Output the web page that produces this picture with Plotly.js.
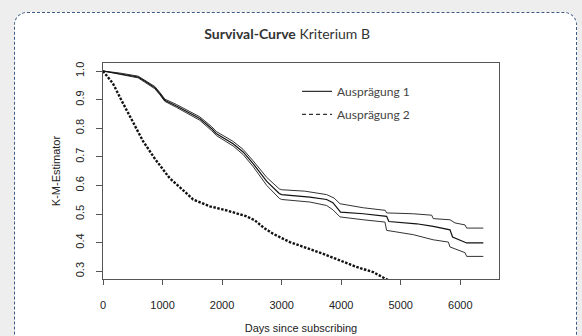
<!DOCTYPE html>
<html>
<head>
<meta charset="utf-8">
<script src="https://cdn.plot.ly/plotly-3.0.1.min.js"></script>
<style>
  html, body { margin: 0; padding: 0; background: #eeeeee; width: 582px; height: 336px; overflow: hidden; }
  #panel { position: absolute; left: 14px; top: 12px; width: 563px; height: 340px;
           border: 1.5px dashed #3d5a82; border-radius: 13px; background: #ffffff; box-sizing: border-box; }
  #chart { position: absolute; left: 0; top: 0; width: 582px; height: 336px; }
</style>
</head>
<body>
<div id="panel"></div>
<div id="chart"></div>
<script>
// Ausprägung 1: Kaplan-Meier estimate with upper / lower confidence bounds
const daysEst  = [0, 280, 590, 700, 870, 955, 1037, 1233, 1457, 1625, 1822, 1906, 2185, 2353, 2521, 2750, 2960, 3000, 3474, 3755, 3860, 3990, 4370, 4763, 4800, 5266, 5546, 5827, 5870, 6107, 6387];
const survEst  = [1.0, 0.991, 0.979, 0.965, 0.942, 0.921, 0.898, 0.878, 0.853, 0.834, 0.799, 0.781, 0.746, 0.717, 0.676, 0.614, 0.572, 0.568, 0.559, 0.551, 0.540, 0.507, 0.501, 0.492, 0.474, 0.466, 0.457, 0.445, 0.420, 0.399, 0.399];

const daysUp   = [0, 280, 590, 700, 870, 955, 1037, 1233, 1457, 1625, 1822, 1906, 2185, 2353, 2521, 2750, 2960, 3000, 3390, 3755, 3880, 3980, 4370, 4740, 4763, 5210, 5520, 5546, 5827, 5911, 6080, 6107, 6387];
const survUp   = [1.0, 0.993, 0.982, 0.969, 0.946, 0.925, 0.902, 0.883, 0.858, 0.840, 0.806, 0.788, 0.754, 0.726, 0.686, 0.628, 0.588, 0.585, 0.580, 0.568, 0.556, 0.536, 0.522, 0.513, 0.504, 0.501, 0.496, 0.484, 0.480, 0.469, 0.462, 0.451, 0.451];

const daysLow  = [0, 280, 590, 700, 870, 955, 1037, 1233, 1457, 1625, 1822, 1906, 2185, 2353, 2521, 2750, 2960, 3000, 3474, 3755, 3860, 3980, 4370, 4735, 4763, 5210, 5546, 5800, 5827, 6080, 6107, 6387];
const survLow  = [1.0, 0.989, 0.976, 0.961, 0.938, 0.917, 0.894, 0.873, 0.848, 0.828, 0.792, 0.774, 0.738, 0.708, 0.666, 0.600, 0.555, 0.551, 0.542, 0.530, 0.515, 0.490, 0.480, 0.472, 0.443, 0.428, 0.410, 0.402, 0.385, 0.365, 0.352, 0.352];

// Ausprägung 2: Kaplan-Meier estimate
const days2 = [0, 168, 309, 504, 672, 869, 1008, 1121, 1289, 1513, 1793, 2073, 2297, 2400, 2550, 2700, 2857, 3138, 3697, 4259, 4538, 4763, 4850];
const surv2 = [1.0, 0.956, 0.898, 0.822, 0.755, 0.694, 0.657, 0.625, 0.594, 0.551, 0.527, 0.513, 0.499, 0.493, 0.478, 0.452, 0.431, 0.402, 0.361, 0.315, 0.297, 0.274, 0.262];

const legendNames = ['Ausprägung 1', 'Ausprägung 2'];
const xTicks = [0, 1000, 2000, 3000, 4000, 5000, 6000];
const yTicks = [0.3, 0.4, 0.5, 0.6, 0.7, 0.8, 0.9, 1.0];
const yTickText = ['0.3', '0.4', '0.5', '0.6', '0.7', '0.8', '0.9', '1.0'];

const ciLine = {color: '#333333', width: 1};
const traces = [
  {x: daysUp, y: survUp, mode: 'lines', line: ciLine, showlegend: false, hoverinfo: 'skip'},
  {x: daysLow, y: survLow, mode: 'lines', line: ciLine, showlegend: false, hoverinfo: 'skip'},
  {x: daysEst, y: survEst, mode: 'lines', line: {color: '#111111', width: 1.2}, showlegend: false},
  {x: days2, y: surv2, mode: 'lines', line: {color: '#111111', width: 2.4, dash: '2.5px,1.5px'}, showlegend: false},
  {x: [null], y: [null], mode: 'lines', name: legendNames[0], line: {color: '#333333', width: 1.2}, legendgroup: 'a'},
  {x: [null], y: [null], mode: 'lines', name: legendNames[1], line: {color: '#333333', width: 1.2, dash: '4px,3px'}, legendgroup: 'b'}
];

const axFont = {family: 'Liberation Sans, Arial, sans-serif', size: 11, color: '#222222'};
const layout = {
  width: 582, height: 336,
  margin: {l: 103, r: 83, t: 63, b: 57, pad: 0},
  paper_bgcolor: 'rgba(0,0,0,0)',
  plot_bgcolor: '#ffffff',
  showlegend: true,
  title: {
    text: '<b>Survival-Curve</b> Kriterium B',
    font: {family: 'Lato, Open Sans, sans-serif', size: 14, color: '#333333'},
    x: 0.465, xanchor: 'center', y: 0.9, yanchor: 'middle', xref: 'paper'
  },
  legend: {
    x: 0.49, y: 0.936, xanchor: 'left', yanchor: 'top',
    bgcolor: 'rgba(0,0,0,0)', borderwidth: 0,
    font: {family: 'Lato, Open Sans, sans-serif', size: 12, color: '#444444'},
    traceorder: 'grouped', tracegroupgap: 4, itemwidth: 30
  },
  xaxis: {
    range: [0, 6650], tickvals: xTicks, ticktext: xTicks.map(String),
    showgrid: false, zeroline: false,
    showline: true, linecolor: '#555555', linewidth: 1, mirror: true,
    ticks: 'outside', ticklen: 5, tickcolor: '#555555', tickwidth: 1,
    ticklabelstandoff: 11,
    tickfont: axFont,
    title: {text: 'Days since subscribing', font: axFont, standoff: 14}
  },
  yaxis: {
    range: [0.273, 1.028], tickvals: yTicks, ticktext: yTickText,
    showgrid: false, zeroline: false,
    showline: true, linecolor: '#555555', linewidth: 1, mirror: true,
    ticks: 'outside', ticklen: 6, tickcolor: '#555555', tickwidth: 1,
    tickangle: -90, ticklabelstandoff: 8,
    tickfont: axFont,
    title: {text: 'K-M-Estimator', font: axFont, standoff: 10}
  }
};

Plotly.newPlot('chart', traces, layout, {displayModeBar: false, staticPlot: true});
</script>
</body>
</html>
